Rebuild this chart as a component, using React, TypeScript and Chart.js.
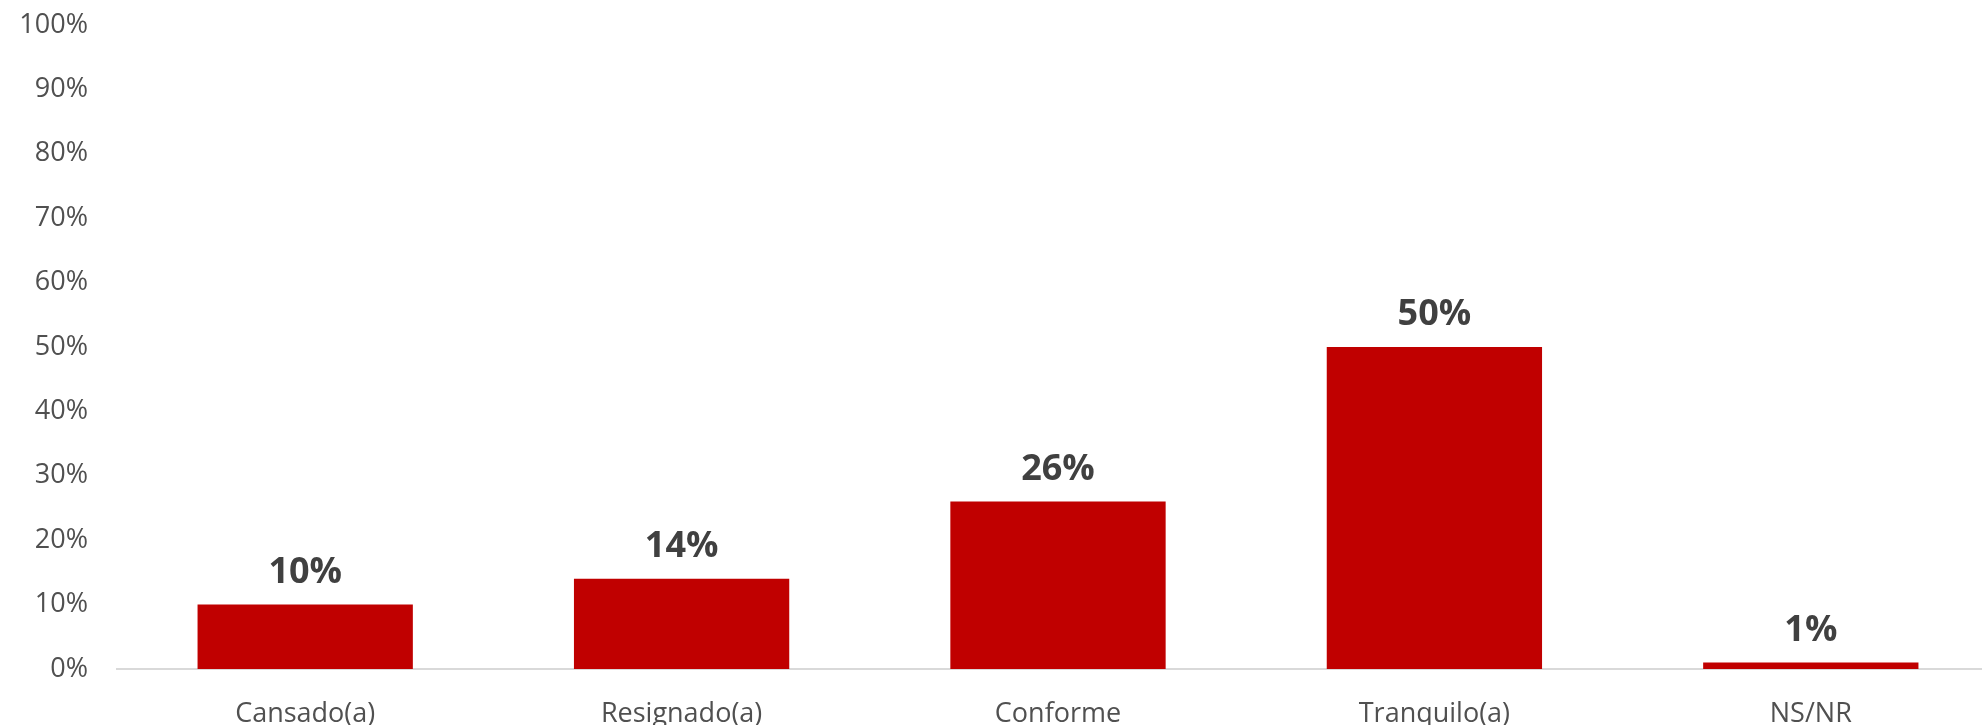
import React, { useEffect, useRef } from "react";
import { Chart, registerables } from "chart.js";

Chart.register(...registerables);

const categories = ["Cansado(a)", "Resignado(a)", "Conforme", "Tranquilo(a)", "NS/NR"];
const values = [10, 14, 26, 50, 1];
const yTicks = [0, 10, 20, 30, 40, 50, 60, 70, 80, 90, 100];

const FONT = "'Open Sans', sans-serif";

const valueLabels = {
  id: "valueLabels",
  afterDatasetsDraw(chart: any) {
    const ctx = chart.ctx;
    const meta = chart.getDatasetMeta(0);
    ctx.save();
    ctx.font = `bold 36px ${FONT}`;
    ctx.fillStyle = "#404040";
    ctx.textAlign = "center";
    ctx.textBaseline = "alphabetic";
    meta.data.forEach((bar: any, i: number) => {
      ctx.fillText(values[i] + "%", bar.x, bar.y - 22);
    });
    ctx.restore();
  },
};

export default function App() {
  const ref = useRef<HTMLCanvasElement | null>(null);
  useEffect(() => {
    if (!ref.current) return;
    const chart = new Chart(ref.current, {
      type: "bar",
      data: {
        labels: categories,
        datasets: [
          {
            data: values,
            backgroundColor: "#C00000",
            borderWidth: 0,
            categoryPercentage: 1,
            barPercentage: 0.572,
          },
        ],
      },
      options: {
        responsive: false,
        animation: false,
        layout: { padding: { top: 25, right: 0, left: 0, bottom: 0 } },
        plugins: { legend: { display: false }, tooltip: { enabled: false } },
        scales: {
          x: {
            grid: { display: false, drawTicks: false },
            border: { display: true, color: "#D9D9D9", width: 2 },
            ticks: {
              color: "#505050",
              font: { family: FONT, size: 27 },
              padding: 29,
              maxRotation: 0,
              autoSkip: false,
            },
            afterFit(scale: any) {
              scale.height = 56;
            },
          },
          y: {
            min: 0,
            max: 100,
            grid: { display: false, drawTicks: true, tickLength: 29 },
            border: { display: false },
            afterBuildTicks(scale: any) {
              scale.ticks = yTicks.map((v) => ({ value: v }));
            },
            ticks: {
              color: "#505050",
              font: { family: FONT, size: 27 },
              padding: 0,
              callback: (v: any) => v + "%",
            },
            afterFit(scale: any) {
              scale.width = 117;
            },
          },
        },
      },
      plugins: [valueLabels],
    });
    return () => chart.destroy();
  }, []);
  return (
    <div
      style={{
        position: "absolute",
        left: 0,
        top: 0,
        width: 1982,
        height: 725,
        overflow: "hidden",
        background: "#fff",
      }}
    >
      <canvas ref={ref} width={1999} height={725} style={{ display: "block" }} />
    </div>
  );
}
